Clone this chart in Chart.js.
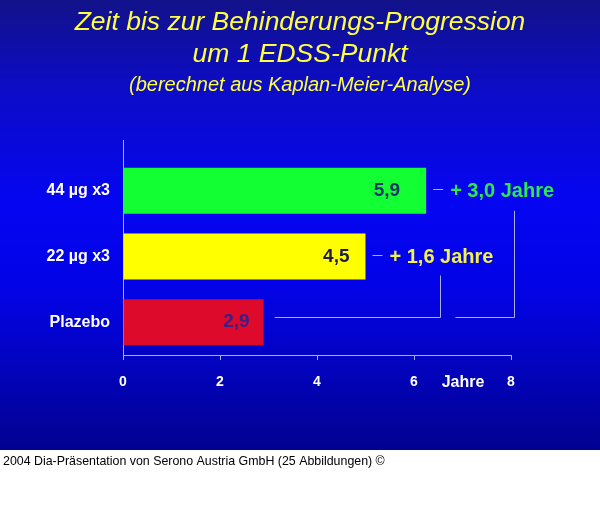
<!DOCTYPE html>
<html><head><meta charset="utf-8">
<script src="https://cdn.jsdelivr.net/npm/chart.js@4/dist/chart.umd.min.js"></script>
<style>html,body{margin:0;padding:0;background:#fff}#c{display:block}</style>
</head><body>
<canvas id="c" width="600" height="512"></canvas>
<script>
const titleLines = ['Zeit bis zur Behinderungs-Progression', 'um 1 EDSS-Punkt'];
const subtitleText = '(berechnet aus Kaplan-Meier-Analyse)';
const categories = ['44 µg x3', '22 µg x3', 'Plazebo'];
const barValues = [6.25, 5.0, 2.9];
const valueLabels = ['5,9', '4,5', '2,9'];
const gainLabels = ['+ 3,0 Jahre', '+ 1,6 Jahre', ''];
const xTicks = [0, 2, 4, 6, 8];
const axisTitle = 'Jahre';
const caption = '2004 Dia-Präsentation von Serono Austria GmbH (25 Abbildungen) ©';

const barColors = ['#11ff33', '#ffff00', '#dd0a2c'];
const valueColors = ['#1a3566', '#1c1c4a', '#3a1f86'];
const valueInset = [26, 16, 14];
const gainColors = ['#2ee84e', '#f2f24a'];
const bracketX = [8.07, 6.54];
const lineColor = '#a9aef5';
const FONT = 'Arial, "Liberation Sans", sans-serif';

const deco = {
  id: 'deco',
  beforeDraw(chart) {
    const ctx = chart.ctx;
    ctx.save();
    ctx.fillStyle = '#ffffff';
    ctx.fillRect(0, 0, chart.width, chart.height);
    const g = ctx.createLinearGradient(0, 0, 0, 450);
    g.addColorStop(0, '#12128a');
    g.addColorStop(0.2, '#0c0cc8');
    g.addColorStop(0.45, '#0505f2');
    g.addColorStop(0.65, '#0303e6');
    g.addColorStop(1, '#020290');
    ctx.fillStyle = g;
    ctx.fillRect(0, 0, 600, 450);
    ctx.restore();
  },
  afterDatasetsDraw(chart) {
    const ctx = chart.ctx;
    const xs = chart.scales.x, ys = chart.scales.y;
    ctx.save();
    ctx.strokeStyle = lineColor;
    ctx.lineWidth = 1;
    ctx.beginPath();
    ctx.moveTo(xs.getPixelForValue(0) + 0.5, 140);
    ctx.lineTo(xs.getPixelForValue(0) + 0.5, chart.chartArea.top);
    ctx.stroke();
    // value labels inside bars
    ctx.font = 'bold 19px ' + FONT;
    ctx.textBaseline = 'middle';
    ctx.textAlign = 'right';
    barValues.forEach((v, i) => {
      const x = xs.getPixelForValue(v) - valueInset[i];
      const y = ys.getPixelForValue(i);
      ctx.fillStyle = valueColors[i];
      ctx.fillText(valueLabels[i], x, y);
    });
    // gain labels with dashes
    ctx.font = 'bold 20px ' + FONT;
    ctx.textAlign = 'left';
    gainLabels.forEach((t, i) => {
      if (!t) return;
      const lx = xs.getPixelForValue(barValues[i]) + 24;
      const ly = ys.getPixelForValue(i) + 1;
      ctx.fillStyle = gainColors[i];
      ctx.fillText(t, lx, ly);
      ctx.strokeStyle = lineColor;
      ctx.beginPath();
      ctx.moveTo(lx - 17, Math.round(ly) - 2.5);
      ctx.lineTo(lx - 7, Math.round(ly) - 2.5);
      ctx.stroke();
    });
    // brackets
    const lastIdx = categories.length - 1;
    const hy = Math.round(ys.getPixelForValue(lastIdx) - 5) + 0.5;
    const baseX0 = xs.getPixelForValue(barValues[lastIdx]) + 11;
    const vx1 = Math.round(xs.getPixelForValue(bracketX[1])) + 0.5;
    const vx0 = Math.round(xs.getPixelForValue(bracketX[0])) + 0.5;
    ctx.beginPath();
    ctx.moveTo(baseX0, hy);
    ctx.lineTo(vx1, hy);
    ctx.lineTo(vx1, ys.getPixelForValue(1) + 19);
    ctx.stroke();
    ctx.beginPath();
    ctx.moveTo(vx1 + 15, hy);
    ctx.lineTo(vx0, hy);
    ctx.lineTo(vx0, ys.getPixelForValue(0) + 20);
    ctx.stroke();
    // axis title
    ctx.font = 'bold 16px ' + FONT;
    ctx.fillStyle = '#ffffff';
    ctx.textAlign = 'center';
    ctx.fillText(axisTitle, 463, 383);
    // caption
    ctx.font = '12.4px ' + FONT;
    ctx.fillStyle = '#000000';
    ctx.textAlign = 'left';
    ctx.fillText(caption, 3, 462);
    ctx.restore();
  }
};

new Chart(document.getElementById('c'), {
  type: 'bar',
  data: {
    labels: categories,
    datasets: [{
      data: barValues,
      backgroundColor: barColors,
      borderWidth: 0,
      barPercentage: 0.7,
      categoryPercentage: 1.0
    }]
  },
  options: {
    indexAxis: 'y',
    responsive: false,
    animation: false,
    devicePixelRatio: 1,
    layout: { padding: 0 },
    plugins: {
      legend: { display: false },
      tooltip: { enabled: false },
      title: {
        display: true,
        text: titleLines,
        color: '#ffff40',
        font: { family: FONT, size: 26.5, style: 'italic', weight: 'normal', lineHeight: 1.2 },
        padding: { top: 7, bottom: 0 }
      },
      subtitle: {
        display: true,
        text: subtitleText,
        color: '#ffff40',
        font: { family: FONT, size: 20, style: 'italic', weight: 'normal', lineHeight: 1.2 },
        padding: { top: 2.4, bottom: 61 }
      }
    },
    scales: {
      x: {
        type: 'linear',
        min: 0, max: 8,
        afterBuildTicks(scale) { scale.ticks = xTicks.map(v => ({ value: v })); },
        afterFit(scale) { scale.height = 157; },
        grid: { display: true, drawOnChartArea: false, tickLength: 5, color: lineColor },
        border: { display: true, color: lineColor },
        ticks: { color: '#ffffff', font: { family: FONT, size: 14, weight: 'bold' }, padding: 14 }
      },
      y: {
        type: 'category',
        offset: true,
        afterFit(scale) { scale.width = 123; },
        grid: { display: false, drawTicks: false },
        border: { display: true, color: lineColor },
        ticks: { color: '#ffffff', font: { family: FONT, size: 16, weight: 'bold' }, padding: 13 }
      },
      yRight: {
        type: 'category',
        position: 'right',
        labels: categories,
        afterFit(scale) { scale.width = 89; },
        grid: { display: false, drawTicks: false },
        border: { display: false },
        ticks: { display: false }
      }
    }
  },
  plugins: [deco]
});
</script>
</body></html>
